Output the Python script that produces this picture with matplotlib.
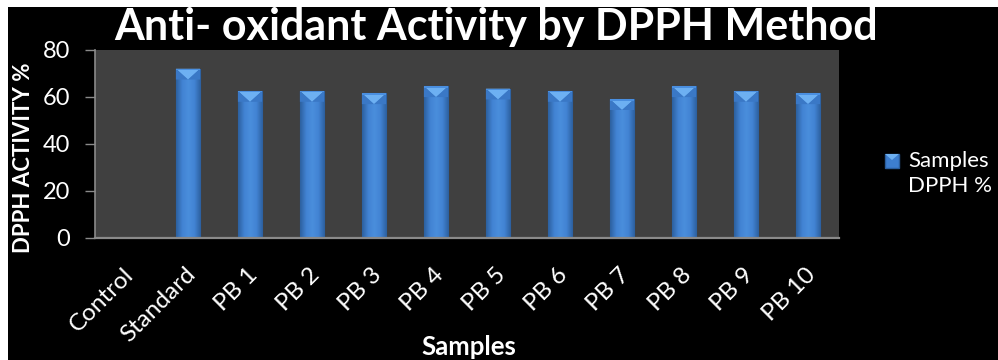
import numpy as np
import matplotlib
matplotlib.use("Agg")
import matplotlib.pyplot as plt
from matplotlib.patches import Rectangle, Polygon
from matplotlib.colors import LinearSegmentedColormap
from matplotlib.transforms import ScaledTranslation

categories = ["Control", "Standard", "PB 1", "PB 2", "PB 3", "PB 4", "PB 5",
              "PB 6", "PB 7", "PB 8", "PB 9", "PB 10"]
dpph_activity = [0, 72, 62.5, 62.5, 61.5, 64.5, 63.5, 62.5, 59, 64.5, 62.5, 61.5]
y_ticks = [0, 20, 40, 60, 80]

FONT = ["Lato", "DejaVu Sans"]
plt.rcParams["font.family"] = FONT

fig = plt.figure(figsize=(9.98, 3.6), dpi=100, facecolor="white")
# black chart panel, with a thin white margin on the top and left
fig.patches.append(Rectangle((8 / 998, 0), 1, 1 - 7 / 360, transform=fig.transFigure,
                             facecolor="black", edgecolor="none", zorder=-10))

ax = fig.add_axes([95 / 998, 1 - 237.5 / 360, (839 - 95) / 998, (237.5 - 50) / 360])
ax.set_facecolor("#404040")

x = np.arange(len(categories))
width = 0.39
bars = ax.bar(x, dpph_activity, width=width, color="#3d7ecf",
              edgecolor="#2a5d9c", linewidth=0.8, zorder=2)

ax.set_xlim(-0.5, len(categories) - 0.5)
ax.set_ylim(0, 80)

# bevelled look: horizontal shading plus a light wedge at the top of each bar
shade = LinearSegmentedColormap.from_list(
    "bevel", ["#2c609f", "#4283d3", "#4a8edc", "#4283d3", "#2c609f"])
grad = np.linspace(0, 1, 64).reshape(1, -1)
for rect in bars:
    x0, w, h = rect.get_x(), rect.get_width(), rect.get_height()
    if h <= 0:
        continue
    im = ax.imshow(grad, cmap=shade, aspect="auto", extent=(x0, x0 + w, 0, h),
                   zorder=2.5, interpolation="bilinear")
    im.set_clip_path(rect)
    depth = 4.6
    ax.add_patch(Polygon([(x0, h), (x0 + w, h), (x0 + w / 2, h - depth)],
                         closed=True, facecolor="#6db0f2", edgecolor="none", zorder=3))
    ax.add_patch(Polygon([(x0, h), (x0 + w / 2, h - depth), (x0, h - depth)],
                         closed=True, facecolor="#3a78c6", edgecolor="none", zorder=3))
    ax.add_patch(Polygon([(x0 + w, h), (x0 + w / 2, h - depth), (x0 + w, h - depth)],
                         closed=True, facecolor="#3a78c6", edgecolor="none", zorder=3))
    ax.add_patch(Rectangle((x0, h - 0.6), w, 0.6, facecolor="#4a8fe0",
                           edgecolor="none", zorder=3.2))

ax.set_xlim(-0.5, len(categories) - 0.5)
ax.set_ylim(0, 80)

for side in ["top", "right"]:
    ax.spines[side].set_visible(False)
ax.spines["left"].set_color("#8a8a8a")
ax.spines["bottom"].set_color("#8a8a8a")
ax.spines["left"].set_linewidth(1.2)
ax.spines["bottom"].set_linewidth(1.6)

ax.set_yticks(y_ticks)
ax.tick_params(axis="y", colors="#8a8a8a", labelcolor="white", labelsize=17,
               length=7, width=1, pad=11)
ax.tick_params(axis="x", length=0, pad=19)
ax.set_xticks(x)
ax.set_xticklabels(categories, rotation=45, ha="right", va="top",
                   rotation_mode="anchor", color="white", fontsize=17.5)
shift = ScaledTranslation(-3 / 100, 0, fig.dpi_scale_trans)
for lab in ax.get_xticklabels():
    lab.set_transform(lab.get_transform() + shift)

ax.set_ylabel("DPPH ACTIVITY %", color="white", fontsize=16, fontweight="bold")
ax.yaxis.set_label_coords(-0.082, 0.425)
ax.set_xlabel("Samples", color="white", fontsize=18.5, fontweight="bold")
ax.xaxis.set_label_coords(0.503, -0.52)

fig.text(0.497, 1 - 40 / 360, "Anti- oxidant Activity by DPPH Method", color="white",
         fontsize=31, fontweight="bold", ha="center", va="baseline")

# legend entry
fig.patches.append(Rectangle((885 / 998, 1 - 168 / 360), 14 / 998, 14 / 360,
                             transform=fig.transFigure, facecolor="#3d7ecf",
                             edgecolor="#2a5d9c", zorder=5))
fig.patches.append(Polygon([(885 / 998, 1 - 154 / 360), (899 / 998, 1 - 154 / 360),
                            (892 / 998, 1 - 160 / 360)], closed=True,
                           transform=fig.transFigure, facecolor="#6db0f2",
                           edgecolor="none", zorder=6))
fig.text(908 / 998, 1 - 161 / 360, "Samples", color="white", fontsize=16,
         ha="left", va="center")
fig.text(908 / 998, 1 - 186 / 360, "DPPH %", color="white", fontsize=16,
         ha="left", va="center")

fig.savefig("out.png", dpi=100, facecolor=fig.get_facecolor())
